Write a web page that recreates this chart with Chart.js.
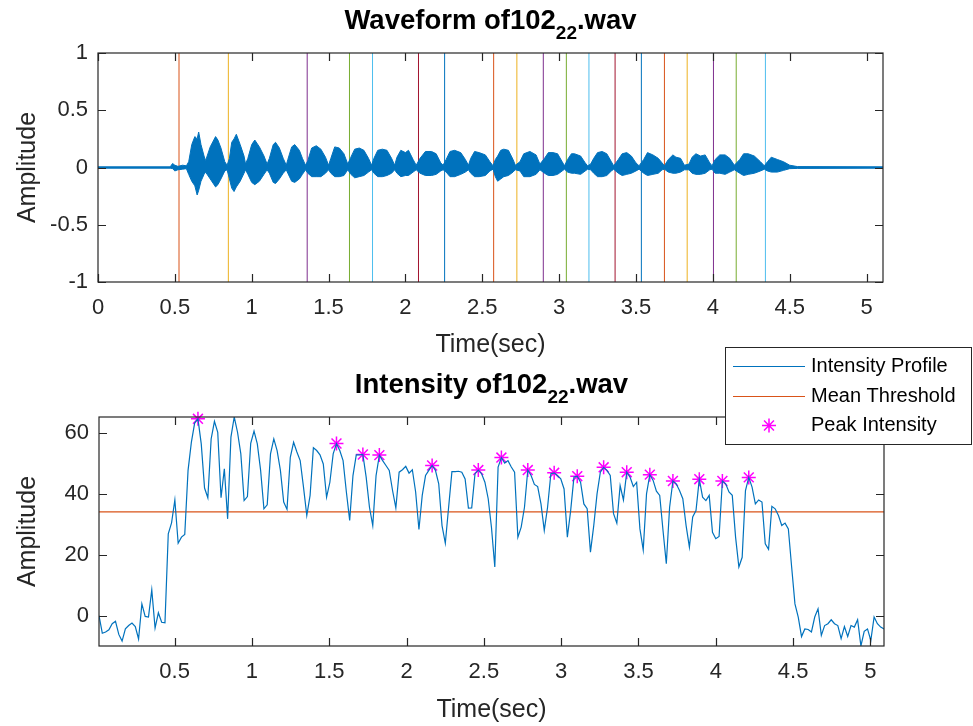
<!DOCTYPE html>
<html>
<head>
<meta charset="utf-8">
<title>Waveform and intensity</title>
<script src="https://cdn.jsdelivr.net/npm/chart.js@4.4.0/dist/chart.umd.min.js"></script>
<style>
  body { margin: 0; background: #fff; }
  #wrap { position: relative; width: 973px; height: 726px; }
  #wrap canvas { position: absolute; left: 0; top: 0; }
</style>
</head>
<body>
<div id="wrap">
  <canvas id="waveChart" width="973" height="726"></canvas>
  <canvas id="intensityChart" width="973" height="726"></canvas>
</div>
<script>
// recording: 48 kHz, analysed in 1024-sample frames
const sampleRate = 48000;
const frameSize = 1024;
const duration = 5.107;

// waveform envelope: time (s), upper and lower amplitude
const waveTime = [
  0, 0.47, 0.485, 0.50, 0.52, 0.55, 0.575,
  0.59, 0.61, 0.63, 0.645, 0.655, 0.67, 0.69,
  0.70, 0.73, 0.765, 0.78, 0.80, 0.825, 0.84,
  0.855, 0.87, 0.885, 0.90, 0.925, 0.95, 0.96,
  0.975, 1.00, 1.02, 1.05, 1.08, 1.10,
  1.115, 1.14, 1.155, 1.18, 1.205, 1.225,
  1.235, 1.26, 1.28, 1.31, 1.33, 1.35,
  1.365, 1.39, 1.42, 1.45, 1.48, 1.50,
  1.515, 1.54, 1.57, 1.60, 1.625,
  1.645, 1.67, 1.70, 1.73, 1.76, 1.78,
  1.795, 1.82, 1.85, 1.88, 1.91, 1.93,
  1.945, 1.97, 2.00, 2.02, 2.05, 2.07,
  2.095, 2.13, 2.17, 2.20, 2.23, 2.245,
  2.265, 2.29, 2.32, 2.36, 2.39, 2.41,
  2.425, 2.45, 2.48, 2.52, 2.55, 2.57,
  2.585, 2.60, 2.62, 2.64, 2.67, 2.70, 2.715,
  2.745, 2.77, 2.81, 2.85, 2.875,
  2.905, 2.93, 2.96, 2.99, 3.02, 3.035,
  3.055, 3.08, 3.10, 3.14, 3.17, 3.185,
  3.205, 3.225, 3.25, 3.28, 3.31, 3.34, 3.355,
  3.385, 3.41, 3.44, 3.47, 3.50, 3.52,
  3.55, 3.575, 3.61, 3.645, 3.67, 3.685,
  3.71, 3.74, 3.76, 3.79, 3.815,
  3.845, 3.865, 3.89, 3.92, 3.95, 3.98, 3.995,
  4.015, 4.045, 4.08, 4.11, 4.14,
  4.175, 4.20, 4.23, 4.27, 4.31, 4.335,
  4.355, 4.38, 4.42, 4.46, 4.50, 4.55,
  5.107
];
const waveUpper = [
  0.006, 0.006, 0.035, 0.02, 0.01, 0.02, 0.015,
  0.05, 0.20, 0.27, 0.25, 0.31, 0.20, 0.10,
  0.06, 0.18, 0.27, 0.24, 0.17, 0.05, 0.02,
  0.08, 0.22, 0.25, 0.29, 0.20, 0.10, 0.03,
  0.08, 0.20, 0.24, 0.18, 0.10, 0.03,
  0.08, 0.20, 0.22, 0.17, 0.08, 0.02,
  0.07, 0.18, 0.20, 0.15, 0.08, 0.02,
  0.06, 0.17, 0.19, 0.16, 0.09, 0.02,
  0.08, 0.18, 0.17, 0.12, 0.03,
  0.09, 0.16, 0.17, 0.15, 0.08, 0.02,
  0.08, 0.15, 0.16, 0.15, 0.08, 0.02,
  0.09, 0.15, 0.13, 0.15, 0.07, 0.02,
  0.08, 0.14, 0.14, 0.12, 0.04, 0.02,
  0.07, 0.14, 0.15, 0.13, 0.07, 0.02,
  0.08, 0.14, 0.13, 0.11, 0.05, 0.015,
  0.07, 0.10, 0.15, 0.16, 0.15, 0.07, 0.02,
  0.05, 0.12, 0.14, 0.11, 0.03,
  0.08, 0.13, 0.13, 0.12, 0.05, 0.015,
  0.07, 0.12, 0.12, 0.10, 0.04, 0.015,
  0.03, 0.08, 0.13, 0.14, 0.12, 0.05, 0.015,
  0.07, 0.12, 0.13, 0.10, 0.04, 0.015,
  0.07, 0.13, 0.11, 0.08, 0.04, 0.015,
  0.07, 0.11, 0.09, 0.08, 0.02,
  0.03, 0.09, 0.12, 0.10, 0.11, 0.04, 0.015,
  0.07, 0.11, 0.11, 0.08, 0.02,
  0.07, 0.12, 0.12, 0.10, 0.05, 0.015,
  0.05, 0.09, 0.07, 0.05, 0.02, 0.008,
  0.006
];
const waveLower = [
  -0.006, -0.006, -0.01, -0.03, -0.02, -0.015, -0.01,
  -0.06, -0.12, -0.16, -0.24, -0.20, -0.12, -0.06,
  -0.04, -0.10, -0.17, -0.15, -0.10, -0.03, -0.02,
  -0.10, -0.18, -0.21, -0.17, -0.12, -0.05, -0.02,
  -0.06, -0.13, -0.15, -0.12, -0.06, -0.02,
  -0.05, -0.13, -0.14, -0.10, -0.05, -0.02,
  -0.05, -0.12, -0.13, -0.10, -0.06, -0.02,
  -0.05, -0.08, -0.08, -0.08, -0.05, -0.02,
  -0.05, -0.08, -0.08, -0.07, -0.02,
  -0.06, -0.09, -0.08, -0.07, -0.04, -0.02,
  -0.05, -0.08, -0.08, -0.07, -0.05, -0.02,
  -0.05, -0.08, -0.07, -0.07, -0.04, -0.02,
  -0.05, -0.07, -0.07, -0.06, -0.03, -0.02,
  -0.04, -0.08, -0.08, -0.06, -0.04, -0.02,
  -0.05, -0.08, -0.08, -0.07, -0.03, -0.015,
  -0.08, -0.12, -0.10, -0.08, -0.07, -0.04, -0.02,
  -0.03, -0.08, -0.08, -0.06, -0.02,
  -0.05, -0.07, -0.07, -0.06, -0.03, -0.015,
  -0.04, -0.05, -0.05, -0.06, -0.03, -0.015,
  -0.02, -0.05, -0.08, -0.08, -0.07, -0.03, -0.015,
  -0.05, -0.07, -0.06, -0.05, -0.03, -0.015,
  -0.05, -0.07, -0.06, -0.05, -0.02, -0.015,
  -0.04, -0.05, -0.05, -0.04, -0.02,
  -0.02, -0.05, -0.06, -0.06, -0.05, -0.02, -0.015,
  -0.05, -0.05, -0.06, -0.04, -0.02,
  -0.05, -0.07, -0.06, -0.05, -0.03, -0.015,
  -0.03, -0.04, -0.04, -0.025, -0.01, -0.008,
  -0.006
];

// syllable boundaries (s)
const boundaries = [
  0.527, 0.848, 1.361, 1.636, 1.786, 2.085, 2.255, 2.574, 2.725, 2.897,
  3.047, 3.194, 3.364, 3.535, 3.685, 3.833, 4.004, 4.152, 4.342
];

// per-frame intensity
const intensity = [
  0.2, -5.6, -5.2, -4.5, -2.5, -1.7, -6.0, -8.2, -4.2, -3.1,
  -2.3, -3.4, -7.5, 4.0, -0.1, -0.3, 8.6, -3.9, 1.1, -2.0,
  -2.2, 27.0, 30.6, 38.1, 23.9, 25.9, 26.8, 47.8, 57.0, 63.3,
  64.7, 56.5, 42.0, 38.8, 58.1, 63.9, 60.3, 38.8, 48.3, 31.9,
  58.7, 65.3, 60.3, 53.2, 37.9, 39.2, 56.7, 60.7, 56.5, 47.8,
  35.2, 36.5, 53.2, 58.1, 54.3, 47.8, 37.4, 35.0, 52.1, 57.0,
  53.8, 51.0, 42.3, 33.0, 39.6, 55.2, 54.3, 52.9, 49.9, 39.0,
  43.9, 53.2, 56.6, 54.3, 51.0, 40.7, 31.4, 46.1, 52.9, 52.9,
  53.0, 45.6, 35.7, 29.7, 46.1, 52.8, 51.0, 49.4, 47.8, 41.2,
  35.5, 47.2, 48.0, 49.1, 46.9, 48.0, 40.7, 28.4, 39.6, 46.1,
  47.8, 49.4, 47.8, 43.4, 29.7, 23.9, 35.7, 47.4, 47.4, 47.5,
  47.2, 45.0, 35.4, 35.5, 46.7, 47.9, 46.7, 43.9, 38.5, 29.0,
  16.1, 48.9, 52.0, 50.2, 51.0, 48.9, 47.2, 25.9, 29.2, 35.7,
  47.9, 46.1, 43.2, 42.5, 36.8, 28.1, 35.7, 46.7, 47.0, 46.1,
  45.0, 41.7, 25.9, 34.6, 45.6, 45.9, 43.9, 36.8, 35.2, 21.0,
  29.7, 40.1, 47.2, 48.8, 47.8, 46.1, 33.6, 30.5, 42.8, 38.1,
  47.2, 45.6, 42.5, 43.9, 28.6, 21.7, 40.1, 46.4, 44.5, 41.0,
  39.6, 28.1, 17.2, 35.7, 44.3, 43.4, 41.2, 38.5, 29.7, 22.6,
  32.5, 34.6, 44.9, 39.0, 37.9, 39.6, 27.5, 25.4, 26.1, 44.3,
  43.4, 40.7, 39.6, 25.9, 16.1, 19.3, 41.2, 45.5, 42.3, 36.8,
  38.1, 37.4, 23.7, 21.9, 36.0, 35.2, 33.0, 29.7, 30.5, 28.6,
  16.1, 4.0, -0.3, -6.7, -4.2, -4.4, -5.2, -0.3, 2.4, -6.3,
  -3.1, -2.5, -1.2, -2.5, -3.1, -7.4, -3.4, -6.7, -3.1, -3.6,
  -1.2, -9.8, -5.0, -4.2, -8.0, -0.3, -2.5, -3.6, -4.2
];
const meanThreshold = 34.2;
const peakFrames = [30, 72, 80, 85, 101, 115, 122, 130, 138, 145, 153, 160, 167, 174, 182, 189, 197];

// tick labels
const waveXTicks = [0, 0.5, 1, 1.5, 2, 2.5, 3, 3.5, 4, 4.5, 5];
const waveYTicks = [-1, -0.5, 0, 0.5, 1];
const intXTicks = [0.5, 1, 1.5, 2, 2.5, 3, 3.5, 4, 4.5, 5];
const intYTicks = [0, 20, 40, 60];

const waveTitle = ['Waveform of102', '22', '.wav'];
const intensityTitle = ['Intensity of102', '22', '.wav'];

// MATLAB default colour order
const lineColors = ['#0072BD', '#D95319', '#EDB120', '#7E2F8E', '#77AC30', '#4DBEEE', '#A2142F'];
const axisColor = '#262626';
const fontFamily = '"Liberation Sans", Arial, Helvetica, sans-serif';

Chart.defaults.font.family = fontFamily;
Chart.defaults.color = axisColor;

const frameTime = intensity.map((_, i) => (i + 0.5) * frameSize / sampleRate);

// boxed axes with inward tick marks on all four sides
const boxTicks = {
  id: 'boxTicks',
  afterDraw(chart) {
    const { ctx, chartArea: a, scales: { x, y } } = chart;
    const len = 8;
    ctx.save();
    ctx.strokeStyle = axisColor;
    ctx.lineWidth = 1.2;
    ctx.beginPath();
    x.ticks.forEach(t => {
      const px = Math.round(x.getPixelForValue(t.value)) + 0.5;
      ctx.moveTo(px, a.bottom); ctx.lineTo(px, a.bottom - len);
      ctx.moveTo(px, a.top); ctx.lineTo(px, a.top + len);
    });
    y.ticks.forEach(t => {
      const py = Math.round(y.getPixelForValue(t.value)) + 0.5;
      ctx.moveTo(a.left, py); ctx.lineTo(a.left + len, py);
      ctx.moveTo(a.right, py); ctx.lineTo(a.right - len, py);
    });
    ctx.stroke();
    ctx.strokeRect(a.left, a.top, a.right - a.left, a.bottom - a.top);
    ctx.restore();
  }
};

// bold title with a subscript part
const subTitle = {
  id: 'subTitle',
  afterDraw(chart, args, opts) {
    const { ctx, chartArea: a } = chart;
    const [main, sub, tail] = opts.parts;
    const big = 'bold 27.5px ' + fontFamily;
    const small = 'bold 19px ' + fontFamily;
    ctx.save();
    ctx.font = big;
    const w1 = ctx.measureText(main).width;
    const w3 = ctx.measureText(tail).width;
    ctx.font = small;
    const w2 = ctx.measureText(sub).width;
    let x = (a.left + a.right) / 2 - (w1 + w2 + w3) / 2;
    ctx.fillStyle = '#000';
    ctx.textBaseline = 'alphabetic';
    ctx.font = big; ctx.fillText(main, x, opts.y); x += w1;
    ctx.font = small; ctx.fillText(sub, x, opts.y + 10); x += w2;
    ctx.font = big; ctx.fillText(tail, x, opts.y);
    ctx.restore();
  }
};

// boxed legend in the top-right corner
const boxLegend = {
  id: 'boxLegend',
  afterDraw(chart, args, opts) {
    if (!opts.show) return;
    const { ctx } = chart;
    const { left, top, width, height } = opts;
    ctx.save();
    ctx.fillStyle = '#fff';
    ctx.fillRect(left, top, width, height);
    ctx.strokeStyle = axisColor;
    ctx.lineWidth = 1;
    ctx.strokeRect(left + 0.5, top + 0.5, width, height);
    ctx.font = '20px ' + fontFamily;
    ctx.textBaseline = 'middle';
    chart.data.datasets.forEach((ds, i) => {
      const cy = Math.round(top + 19 + i * 29.5) + 0.5;
      ctx.strokeStyle = ds.borderColor;
      ctx.beginPath();
      if (ds.showLine === false) {
        // asterisk marker
        const r = 7, cx = left + 44;
        ctx.lineWidth = 1.5;
        for (let k = 0; k < 4; k++) {
          const ang = k * Math.PI / 4;
          ctx.moveTo(cx - r * Math.cos(ang), cy - r * Math.sin(ang));
          ctx.lineTo(cx + r * Math.cos(ang), cy + r * Math.sin(ang));
        }
      } else {
        ctx.lineWidth = 1.2;
        ctx.moveTo(left + 8, cy);
        ctx.lineTo(left + 80, cy);
      }
      ctx.stroke();
      ctx.fillStyle = '#000';
      ctx.fillText(ds.label, left + 86, cy);
    });
    ctx.restore();
  }
};

function axisOptions(xr, yr, xTicks, yTicks, sizes) {
  return {
    x: {
      type: 'linear',
      min: xr[0], max: xr[1],
      grid: { display: false, drawTicks: false },
      border: { display: false },
      ticks: { font: { size: 22 }, color: axisColor, padding: 13, maxRotation: 0, callback: v => String(v) },
      afterBuildTicks: s => { s.ticks = xTicks.map(v => ({ value: v })); },
      afterFit: s => { s.height = sizes.xh; },
      title: { display: true, text: 'Time(sec)', font: { size: 25 }, color: axisColor, padding: 0 }
    },
    y: {
      type: 'linear',
      min: yr[0], max: yr[1],
      grid: { display: false, drawTicks: false },
      border: { display: false },
      ticks: { font: { size: 22 }, color: axisColor, padding: 10, callback: v => String(v) },
      afterBuildTicks: s => { s.ticks = yTicks.map(v => ({ value: v })); },
      afterFit: s => { s.width = sizes.yw; },
      title: { display: true, text: 'Amplitude', font: { size: 25 }, color: axisColor, padding: { top: 13, bottom: 0 } }
    }
  };
}

const commonOptions = {
  responsive: false,
  animation: false,
  devicePixelRatio: 1,
  events: [],
  elements: { point: { radius: 0 }, line: { tension: 0 } }
};

// top: waveform with boundary markers
const waveSets = [
  {
    label: 'upper',
    data: waveTime.map((t, i) => ({ x: t, y: waveUpper[i] })),
    borderColor: lineColors[0], backgroundColor: lineColors[0],
    borderWidth: 1, fill: '+1'
  },
  {
    label: 'lower',
    data: waveTime.map((t, i) => ({ x: t, y: waveLower[i] })),
    borderColor: lineColors[0], borderWidth: 1, fill: false
  }
];
boundaries.forEach((b, k) => {
  waveSets.push({
    label: 'boundary ' + (k + 1),
    data: [{ x: b, y: -1 }, { x: b, y: 1 }],
    borderColor: lineColors[(k + 1) % lineColors.length],
    borderWidth: 1, fill: false
  });
});

new Chart(document.getElementById('waveChart'), {
  type: 'line',
  data: { datasets: waveSets },
  options: {
    ...commonOptions,
    layout: { padding: { left: 0, top: 53, right: 90, bottom: 366 } },
    scales: axisOptions([0, duration], [-1, 1], waveXTicks, waveYTicks, { xh: 78, yw: 98 }),
    plugins: {
      legend: { display: false },
      tooltip: { enabled: false },
      subTitle: { parts: waveTitle, y: 29 },
      boxLegend: { show: false }
    }
  },
  plugins: [boxTicks, subTitle, boxLegend]
});

// bottom: intensity profile, mean threshold and detected peaks
const tFirst = frameTime[0];
const tLast = frameTime[frameTime.length - 1];

new Chart(document.getElementById('intensityChart'), {
  type: 'line',
  data: {
    datasets: [
      {
        label: 'Intensity Profile',
        data: frameTime.map((t, i) => ({ x: t, y: intensity[i] })),
        borderColor: lineColors[0], borderWidth: 1.2, fill: false
      },
      {
        label: 'Mean Threshold',
        data: [{ x: tFirst, y: meanThreshold }, { x: tLast, y: meanThreshold }],
        borderColor: lineColors[1], borderWidth: 1.2, fill: false
      },
      {
        label: 'Peak Intensity',
        data: peakFrames.map(i => ({ x: frameTime[i], y: intensity[i] })),
        showLine: false,
        pointStyle: 'star', pointRadius: 7, pointBorderWidth: 1.5,
        borderColor: '#FF00FF', backgroundColor: '#FF00FF',
        clip: false
      }
    ]
  },
  options: {
    ...commonOptions,
    layout: { padding: { left: 0, top: 417, right: 89, bottom: 1 } },
    scales: axisOptions([tFirst, tLast], [Math.min(...intensity), Math.max(...intensity)],
      intXTicks, intYTicks, { xh: 79, yw: 99 }),
    plugins: {
      legend: { display: false },
      tooltip: { enabled: false },
      subTitle: { parts: intensityTitle, y: 393 },
      boxLegend: { show: true, left: 725, top: 347, width: 246, height: 97 }
    }
  },
  plugins: [boxTicks, subTitle, boxLegend]
});
</script>
</body>
</html>
